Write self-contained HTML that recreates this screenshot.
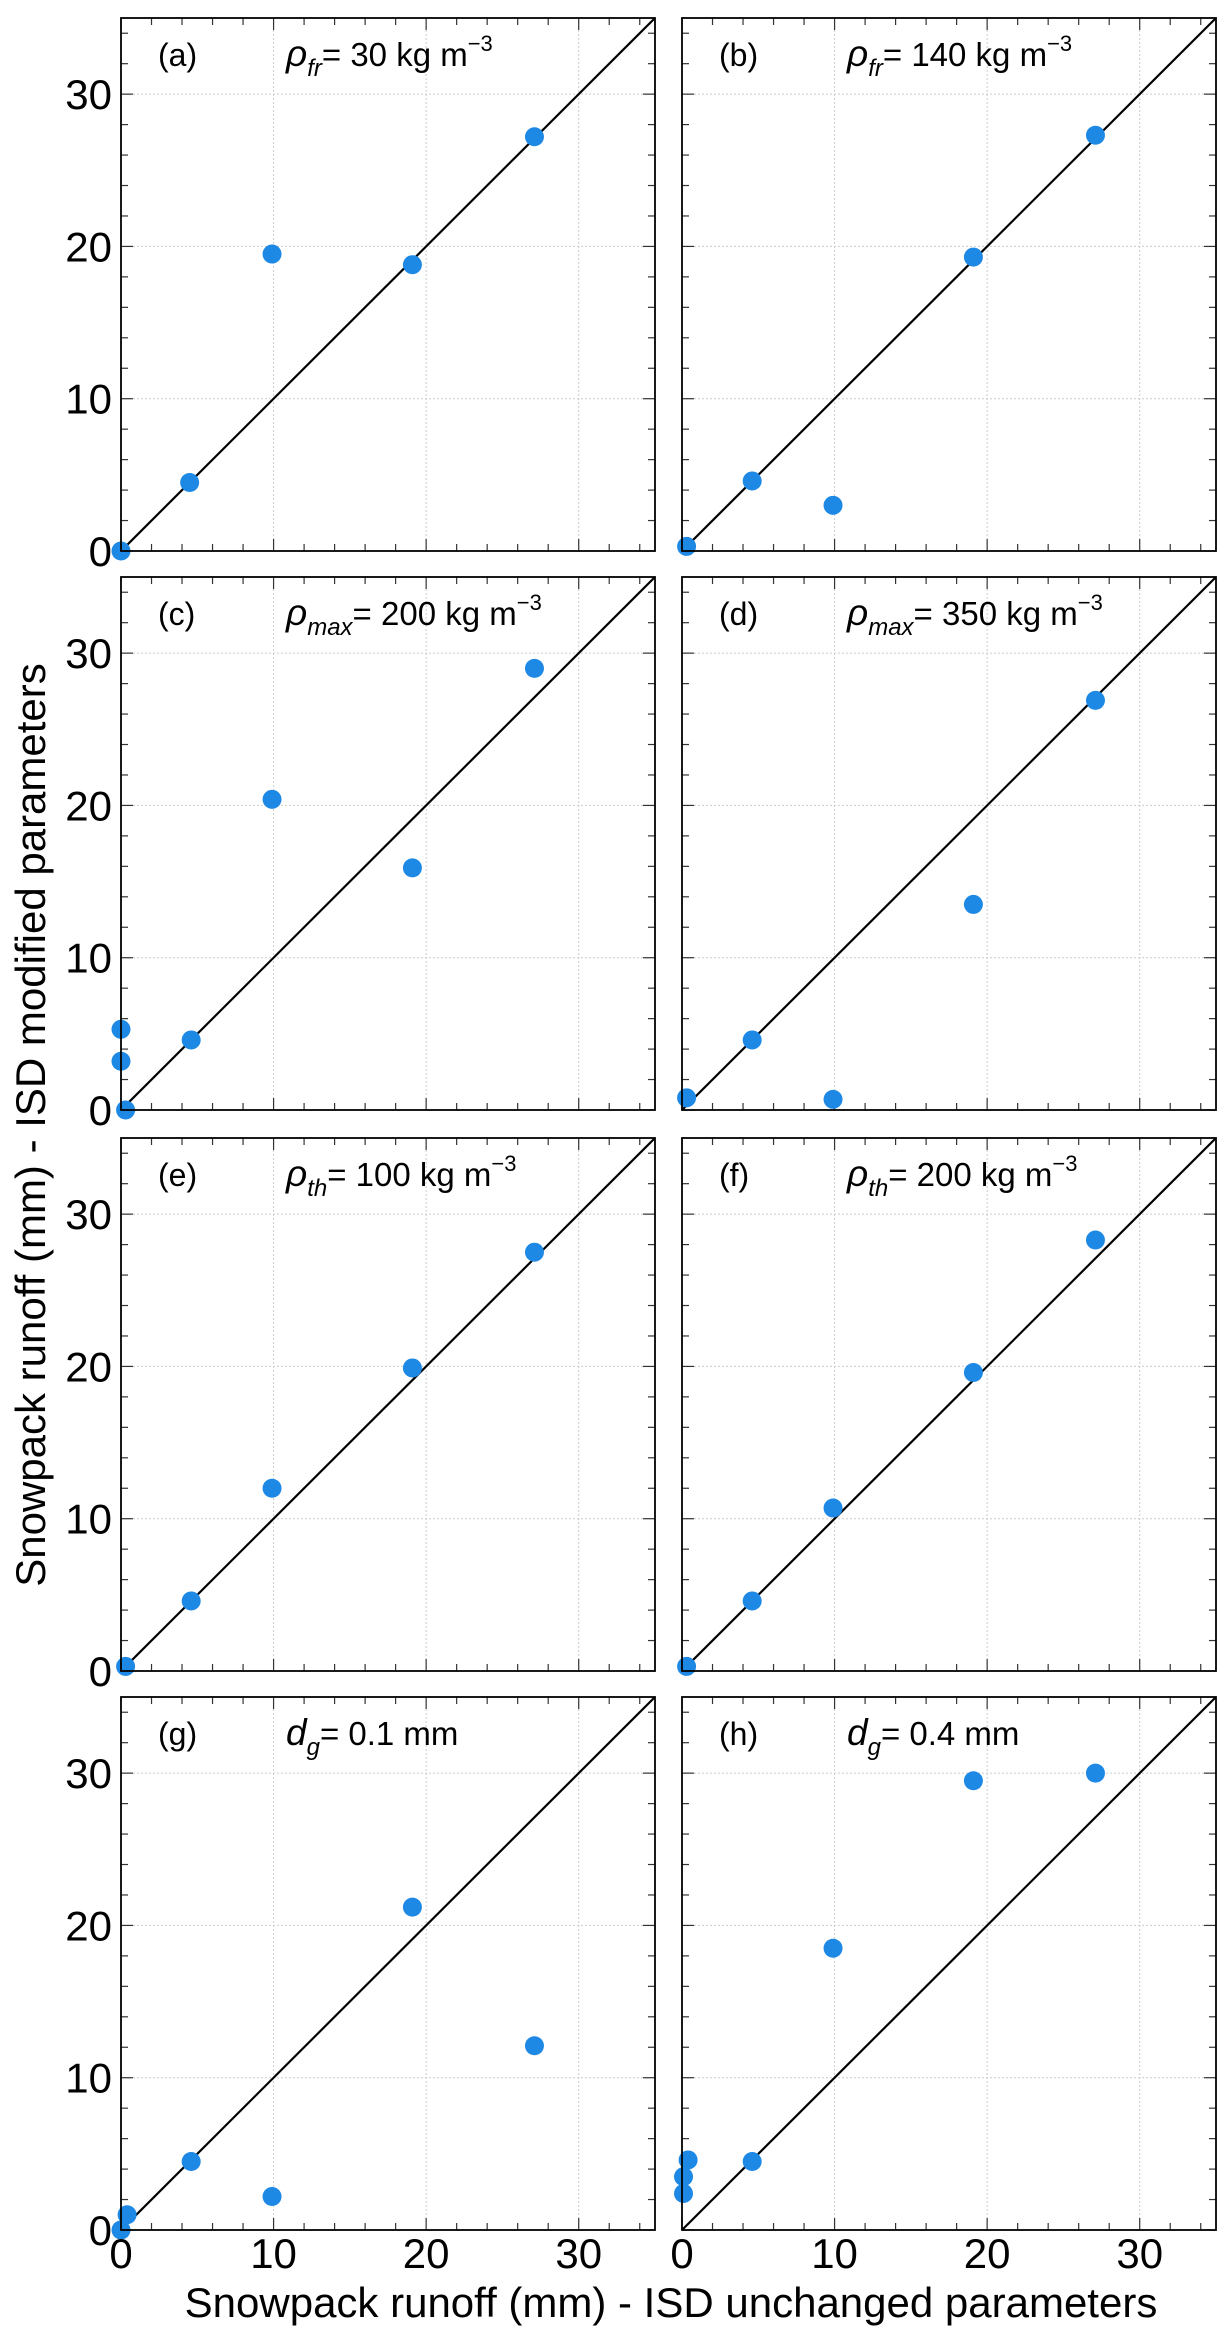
<!DOCTYPE html>
<html><head><meta charset="utf-8"><style>
body{margin:0;background:#fff}
svg{display:block;font-family:"Liberation Sans",sans-serif}
</style></head><body>
<svg id="chart" width="1231" height="2344" viewBox="0 0 1231 2344"></svg>
<script>
const panelLabels=["(a)","(b)","(c)","(d)","(e)","(f)","(g)","(h)"];
const paramSymbols=["ρ","ρ","ρ","ρ","ρ","ρ","d","d"];
const paramSubs=["fr","fr","max","max","th","th","g","g"];
const paramValues=["= 30 kg m","= 140 kg m","= 200 kg m","= 350 kg m","= 100 kg m","= 200 kg m","= 0.1 mm","= 0.4 mm"];
const xTicks=[0,10,20,30];
const yTicks=[0,10,20,30];
const xA=[0,4.5,9.9,19.1,27.1];
const yA=[0,4.5,19.5,18.8,27.2];
const xB=[0.3,4.6,9.9,19.1,27.1];
const yB=[0.3,4.6,3.0,19.3,27.3];
const xC=[0,0,0.3,4.6,9.9,19.1,27.1];
const yC=[5.3,3.2,0,4.6,20.4,15.9,29.0];
const xD=[0.3,4.6,9.9,19.1,27.1];
const yD=[0.8,4.6,0.7,13.5,26.9];
const xE=[0.3,4.6,9.9,19.1,27.1];
const yE=[0.3,4.6,12.0,19.9,27.5];
const xF=[0.3,4.6,9.9,19.1,27.1];
const yF=[0.3,4.6,10.7,19.6,28.3];
const xG=[0,0.4,4.6,9.9,19.1,27.1];
const yG=[0,1.0,4.5,2.2,21.2,12.1];
const xH=[0.1,0.1,0.4,4.6,9.9,19.1,27.1];
const yH=[2.4,3.5,4.6,4.5,18.5,29.5,30.0];
const seriesX=[xA,xB,xC,xD,xE,xF,xG,xH];
const seriesY=[yA,yB,yC,yD,yE,yF,yG,yH];

const NS="http://www.w3.org/2000/svg";
const svg=document.getElementById('chart');
function mk(tag,attrs,parent){const e=document.createElementNS(NS,tag);for(const k in attrs)e.setAttribute(k,attrs[k]);(parent||svg).appendChild(e);return e;}
const colsX=[121,682],rowsY=[18,577,1138,1697],W=534,H=533,MAX=35;

for(let p=0;p<8;p++){
  const L=colsX[p%2],T=rowsY[Math.floor(p/2)];
  const sx=v=>L+v/MAX*W, sy=v=>T+H-v/MAX*H;
  const g=mk('g',{});
  
  
  xTicks.forEach(t=>{if(t>0){const l=mk('line',{x1:sx(t),x2:sx(t),y1:T,y2:T+H,stroke:'#ccc','stroke-width':1,'stroke-dasharray':'2,2'},g);}});
  yTicks.forEach(t=>{if(t>0){const l=mk('line',{x1:L,x2:L+W,y1:sy(t),y2:sy(t),stroke:'#ccc','stroke-width':1,'stroke-dasharray':'2,2'},g);}});
  for(let v=0;v<=34;v+=2){
    const len=v%10===0?12:7;
    mk('line',{x1:sx(v),x2:sx(v),y1:T+H,y2:T+H-len,stroke:'#333','stroke-width':1.2},g);
    mk('line',{x1:sx(v),x2:sx(v),y1:T,y2:T+len,stroke:'#333','stroke-width':1.2},g);
    mk('line',{x1:L,x2:L+len,y1:sy(v),y2:sy(v),stroke:'#333','stroke-width':1.2},g);
    mk('line',{x1:L+W,x2:L+W-len,y1:sy(v),y2:sy(v),stroke:'#333','stroke-width':1.2},g);
  }
  const ol=mk('line',{x1:sx(0),y1:sy(0),x2:sx(MAX),y2:sy(MAX),stroke:'#000','stroke-width':2.2},g);
  
  seriesX[p].forEach((xv,i)=>{const c=mk('circle',{cx:sx(xv),cy:sy(seriesY[p][i]),r:9.5,fill:'#1e88e5'},g);
    });
  const fr=mk('rect',{x:L,y:T,width:W,height:H,fill:'none',stroke:'#000','stroke-width':1.8},g);
  
  const pl=mk('text',{x:L+37,y:T+48,'font-size':32,fill:'#000'},g);pl.textContent=panelLabels[p];
  
  const an=mk('text',{x:L+165,y:T+48,'font-size':33,fill:'#000'},g);
  
  const s1=mk('tspan',{'font-style':'italic','font-size':37},an);s1.textContent=paramSymbols[p];
  const s2=mk('tspan',{'font-style':'italic','font-size':24,dy:10},an);s2.textContent=paramSubs[p];
  const s3=mk('tspan',{dy:-10},an);s3.textContent=paramValues[p];
  if(p<6){const s4=mk('tspan',{'font-size':22,dy:-15},an);s4.textContent='−3';}
  if(p%2===0){yTicks.forEach(t=>{const tl=mk('text',{x:L-9,y:sy(t)+15,'font-size':42,'text-anchor':'end'},g);tl.textContent=t;
    });}
  if(p>=6){xTicks.forEach(t=>{const tl=mk('text',{x:sx(t),y:T+H+38,'font-size':42,'text-anchor':'middle'},g);tl.textContent=t;
    });}
}
const xt=mk('text',{x:671,y:2317,'font-size':42,'text-anchor':'middle'});xt.textContent='Snowpack runoff (mm) - ISD unchanged parameters';

const yt=mk('text',{x:0,y:0,'font-size':42,'text-anchor':'middle',transform:'translate(45,1125) rotate(-90)'});yt.textContent='Snowpack runoff (mm) - ISD modified parameters';

</script>
</body></html>
